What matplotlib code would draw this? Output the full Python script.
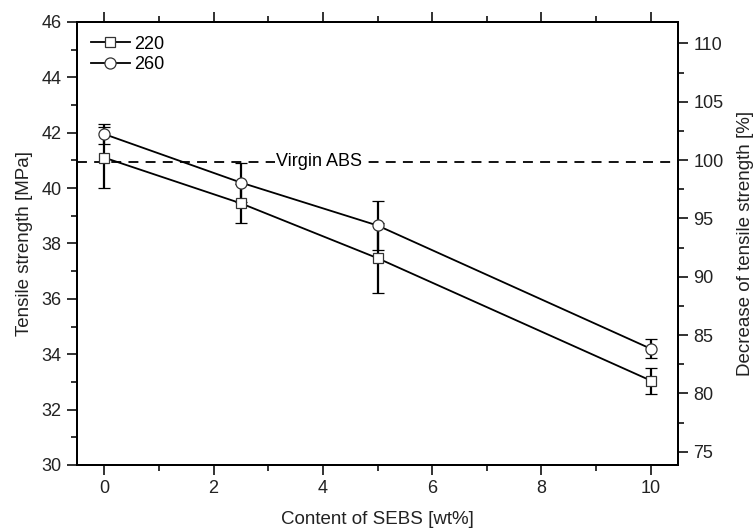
import matplotlib
matplotlib.use("Agg")
import matplotlib.pyplot as plt
from matplotlib.ticker import MultipleLocator

plt.rcParams['font.family'] = ['Liberation Sans', 'DejaVu Sans']

# SEBS content [wt%]
sebs = [0, 2.5, 5, 10]

# tensile strength [MPa] and error
ts_220 = [41.1, 39.45, 37.47, 33.05]
err_220 = [1.1, 0.7, 1.27, 0.47]
ts_260 = [41.95, 40.2, 38.65, 34.2]
err_260 = [0.35, 0.7, 0.9, 0.35]

virgin_abs = 40.96
right_lim = (73.87, 111.83)

fig = plt.figure(figsize=(7.53, 5.31), dpi=100)
ax = fig.add_axes([0.1023, 0.1243, 0.7981, 0.8343])

ax.errorbar(sebs, ts_220, yerr=err_220, color='black', lw=1.3, marker='s',
            ms=7, mfc='white', mec='#333333', mew=0.9, capsize=4.5, capthick=1.8,
            elinewidth=1.6, label='220', zorder=3)
ax.errorbar(sebs, ts_260, yerr=err_260, color='black', lw=1.3, marker='o',
            ms=8, mfc='white', mec='#333333', mew=0.9, capsize=4.5, capthick=1.8,
            elinewidth=1.6, label='260', zorder=3)

# reference line for virgin ABS
ax.axhline(virgin_abs, color='black', ls=(0, (5.5, 4)), lw=1.3, zorder=2)
ax.text(3.92, virgin_abs, 'Virgin ABS', ha='center', va='center', fontsize=13,
        bbox=dict(facecolor='white', edgecolor='none', pad=0.3), zorder=2.5)

ax.set_xlim(-0.5, 10.5)
ax.set_ylim(30, 46)
ax.xaxis.set_major_locator(MultipleLocator(2))
ax.xaxis.set_minor_locator(MultipleLocator(1))
ax.yaxis.set_major_locator(MultipleLocator(2))
ax.yaxis.set_minor_locator(MultipleLocator(1))
ax.tick_params(which='both', direction='out', width=1.3, labelsize=13, colors='#222222')
ax.tick_params(which='major', length=7, pad=4)
ax.tick_params(which='minor', length=4)
ax.tick_params(axis='x', which='both', top=True)
for s in ax.spines.values():
    s.set_linewidth(1.4)

ax.set_xlabel('Content of SEBS [wt%]', fontsize=13.5, labelpad=10, color='#222222')
ax.set_ylabel('Tensile strength [MPa]', fontsize=13.5, labelpad=6, color='#222222')

# secondary axis: relative tensile strength
ax2 = ax.twinx()
ax2.set_ylim(*right_lim)
ax2.yaxis.set_major_locator(MultipleLocator(5))
ax2.yaxis.set_minor_locator(MultipleLocator(2.5))
ax2.tick_params(which='both', direction='out', width=1.3, labelsize=13, colors='#222222')
ax2.tick_params(which='major', length=7, pad=4)
ax2.tick_params(which='minor', length=4)
ax2.set_ylabel('Decrease of tensile strength [%]', fontsize=13.5, labelpad=10, color='#222222')
for s in ax2.spines.values():
    s.set_linewidth(1.4)

handles, labels = ax.get_legend_handles_labels()
handles = [h[0] for h in handles]
ax.legend(handles, labels, loc='upper left', frameon=False, fontsize=13,
          handlelength=2.2, handletextpad=0.2, labelspacing=0.2,
          borderaxespad=0.35)

fig.savefig('out.png', dpi=100)
